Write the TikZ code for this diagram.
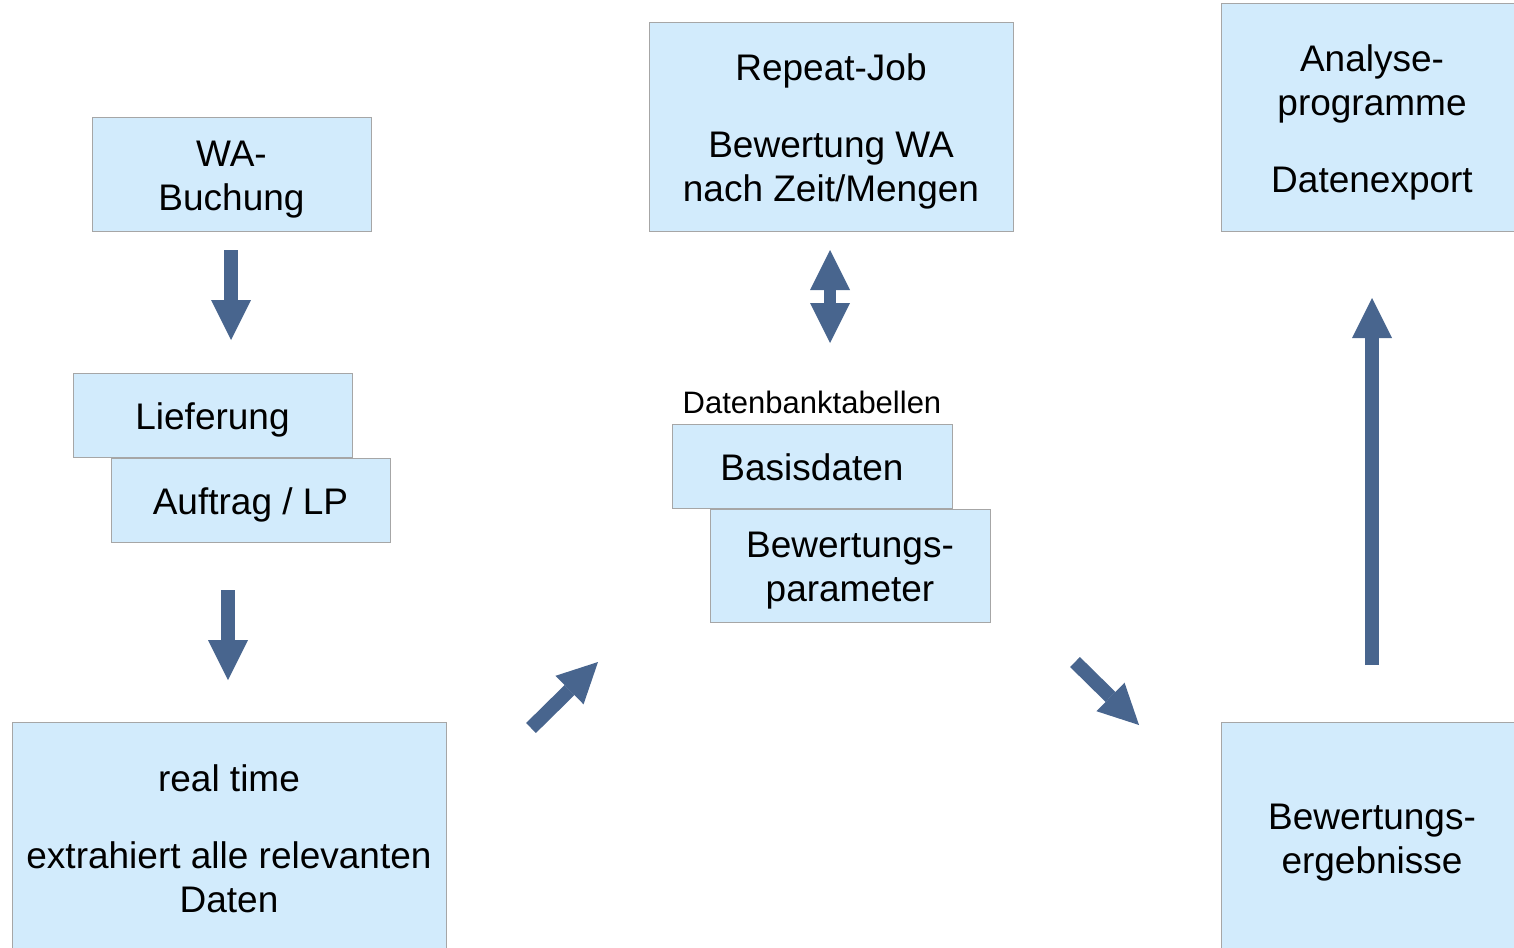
\documentclass[tikz,border=0pt]{standalone}
\usepackage{fontspec}
\setmainfont{Liberation Sans}
\usetikzlibrary{arrows.meta}

\definecolor{boxfill}{RGB}{210,235,252}
\definecolor{boxline}{RGB}{166,166,166}
\definecolor{arrowblue}{RGB}{72,101,142}

% box text, sitting a little below the middle as in the original slide
\newcommand\boxtext[1]{\raisebox{0pt}[\dimexpr\height+11pt\relax][\depth]{\begin{tabular}{@{}c@{}}#1\end{tabular}}}

\begin{document}
\begin{tikzpicture}[x=1pt,y=-1pt,
        box/.style={rectangle,draw=boxline,fill=boxfill,line width=1pt,inner sep=0pt,
          font=\fontsize{37}{44}\selectfont},
        flow/.style={draw=arrowblue,line width=14pt,
          -{Triangle[length=40pt,width=40pt,line width=0pt]}},
        both flow/.style={draw=arrowblue,line width=12pt,
          {Triangle[length=40pt,width=40pt,line width=0pt]}-{Triangle[length=40pt,width=40pt,line width=0pt]}}]
        \path[use as bounding box] (0,0) rectangle (1514,947);
        \clip (0,0) rectangle (1514,947);
        % left column
        \node[box,minimum width=279pt,minimum height=113pt] (wa) at (231.5,174.5) {\boxtext{WA-\\Buchung}};
        \node[box,minimum width=279pt,minimum height=84pt] (lief) at (212.5,415) {\boxtext{Lieferung}};
        \node[box,minimum width=279pt,minimum height=84pt,anchor=north] (auftrag) at ([xshift=38pt]lief.south) {\boxtext{Auftrag / LP}};
        \node[box,minimum width=434pt,minimum height=232pt] (realtime) at (229,838) {\boxtext{real time\\[33pt]extrahiert alle relevanten\\Daten}};
        % middle column
        \node[box,minimum width=364pt,minimum height=208pt] (repeat) at (831,127) {\boxtext{Repeat-Job\\[33pt]Bewertung WA\\nach Zeit/Mengen}};
        \node[font=\fontsize{31}{37}\selectfont] (dbtab) at (812,402) {Datenbanktabellen};
        \node[box,minimum width=280pt,minimum height=84pt] (basis) at (812,466) {\boxtext{Basisdaten}};
        \node[box,minimum width=280pt,minimum height=113pt,anchor=north] (param) at ([xshift=38pt]basis.south) {\boxtext{Bewertungs-\\parameter}};
        % right column
        \node[box,minimum width=302pt,minimum height=227pt] (analyse) at (1372,117.5) {\boxtext{Analyse-\\programme\\[33pt]Datenexport}};
        \node[box,minimum width=302pt,minimum height=230pt] (ergebnis) at (1372,837) {\boxtext{Bewertungs-\\ergebnisse}};
        % arrow ends
        \coordinate (wa out) at (231,250);
        \coordinate (lief in) at (231,340);
        \coordinate (auftrag out) at (228,590);
        \coordinate (realtime in) at (228,680);
        \coordinate (realtime out) at (531,728);
        \coordinate (db in) at (598,662);
        \coordinate (repeat io) at (830,250);
        \coordinate (db io) at (830,343);
        \coordinate (db out) at (1075,662);
        \coordinate (ergebnis in) at (1139,725);
        \coordinate (ergebnis out) at (1372,665);
        \coordinate (analyse in) at (1372,298);
        \draw[flow] (wa out) -- (lief in);
        \draw[flow] (auftrag out) -- (realtime in);
        \draw[flow] (realtime out) -- (db in);
        \draw[both flow] (repeat io) -- (db io);
        \draw[flow] (db out) -- (ergebnis in);
        \draw[flow] (ergebnis out) -- (analyse in);
\end{tikzpicture}
\end{document}
